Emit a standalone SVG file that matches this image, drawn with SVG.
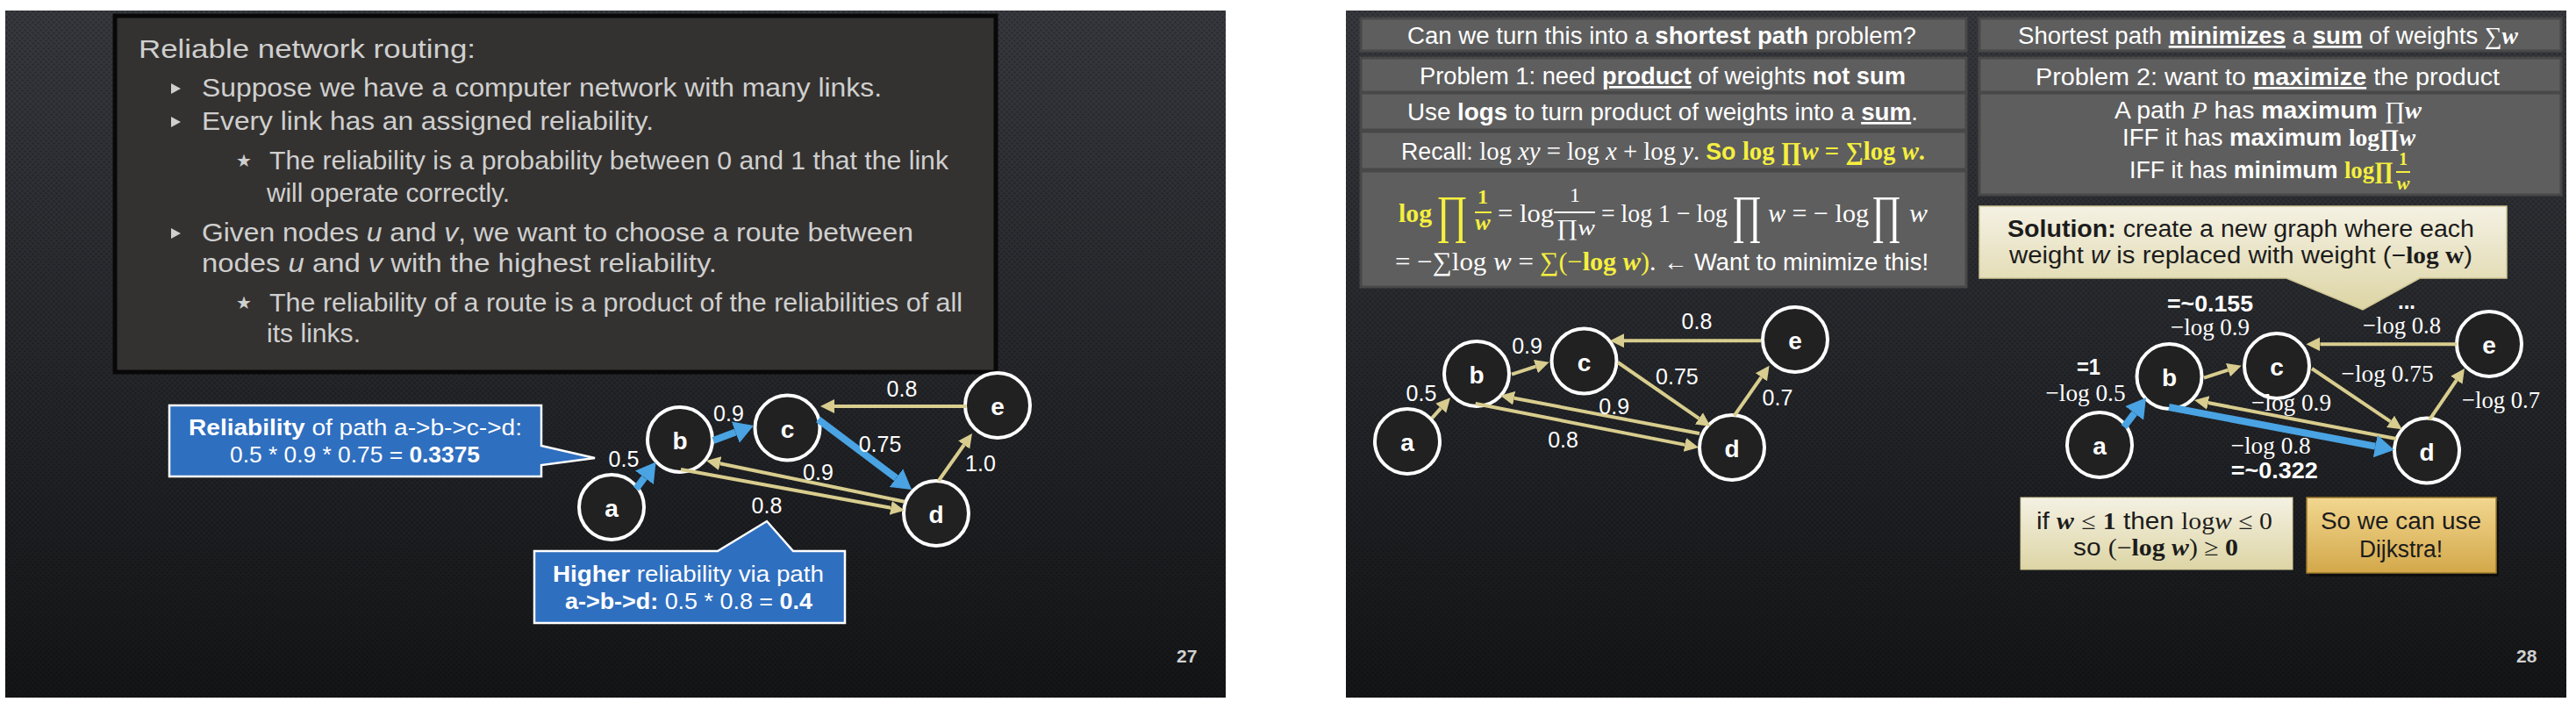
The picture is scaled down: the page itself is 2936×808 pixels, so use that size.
<svg xmlns="http://www.w3.org/2000/svg" width="2936" height="808" viewBox="0 0 2936 808">
<defs>
<style>
.sans{font-family:"Liberation Sans",Arial,sans-serif}
.m{font-family:"Liberation Serif","Times New Roman",serif}
.tex{font-family:"Liberation Sans",Arial,sans-serif;font-size:30px;fill:#cfcfcf}
.it{font-style:italic}
.b{font-weight:bold}
.u{text-decoration:underline}
.wh{fill:#ffffff}
.y{fill:#f5ef3f}
.co{font-family:"Liberation Sans",Arial,sans-serif;font-size:25px;fill:#ffffff}
.pt{font-family:"Liberation Sans",Arial,sans-serif;font-size:27px;fill:#ffffff}
.pt.dk,.dk{fill:#1c1c1c}
.lbl{font-family:"Liberation Sans",Arial,sans-serif;font-size:25px;fill:#ffffff;text-anchor:middle}
.ml{font-family:"Liberation Serif","Times New Roman",serif;font-size:28px;fill:#ffffff}
.bl{font-family:"Liberation Sans",Arial,sans-serif;font-size:26px;font-weight:bold;fill:#ffffff}
.node circle{fill:#212121;stroke:#ffffff;stroke-width:4}
.node text{font-family:"Liberation Sans",Arial,sans-serif;font-weight:bold;font-size:28px;fill:#ffffff;text-anchor:middle}
.tan{stroke:#d8cd8e;stroke-width:4;fill:none;marker-end:url(#ahTan)}
.blue{stroke:#4aa3e2;stroke-width:8;fill:none;marker-end:url(#ahBlue)}
.panel{fill:#5e5e5e;stroke:#484848;stroke-width:3}
.pg{font-family:"Liberation Sans",Arial,sans-serif;font-size:21px;font-weight:bold;fill:#d0d0d0}
</style>
<linearGradient id="bg" x1="0" y1="0" x2="0" y2="1">
<stop offset="0" stop-color="#36383d"/>
<stop offset="0.5" stop-color="#25272b"/>
<stop offset="1" stop-color="#141517"/>
</linearGradient>
<pattern id="dots" width="6" height="6" patternUnits="userSpaceOnUse">
<circle cx="1.5" cy="1.5" r="1.2" fill="#000" fill-opacity="0.22"/>
<circle cx="4.5" cy="4.5" r="1.2" fill="#000" fill-opacity="0.22"/>
</pattern>
<linearGradient id="cream" x1="0" y1="0" x2="0" y2="1">
<stop offset="0" stop-color="#f4f1e3"/>
<stop offset="1" stop-color="#ddd5a5"/>
</linearGradient>
<linearGradient id="gold" x1="0" y1="0" x2="0" y2="1">
<stop offset="0" stop-color="#f2d790"/>
<stop offset="1" stop-color="#d3a84a"/>
</linearGradient>
<marker id="ahTan" markerUnits="userSpaceOnUse" markerWidth="20" markerHeight="20" viewBox="0 -10 20 20" refX="0" refY="0" orient="auto">
<path d="M0,-8 L16,0 L0,8 Z" fill="#d8cd8e"/>
</marker>
<marker id="ahBlue" markerUnits="userSpaceOnUse" markerWidth="24" markerHeight="28" viewBox="0 -14 24 28" refX="0" refY="0" orient="auto">
<path d="M0,-13 L22,0 L0,13 Z" fill="#4aa3e2"/>
</marker>
</defs>

<rect width="2936" height="808" fill="#ffffff"/>

<!-- ================= LEFT SLIDE (27) ================= -->
<g id="slide27">
<rect x="6" y="12" width="1391" height="783" fill="url(#bg)"/>
<rect x="6" y="12" width="1391" height="783" fill="url(#dots)"/>

<g id="textbox">
<rect x="131" y="18" width="1004" height="406" fill="#343230" stroke="#080808" stroke-width="5"/>
<text x="158" y="66" class="tex" font-size="31" textLength="384" lengthAdjust="spacingAndGlyphs">Reliable network routing:</text>
<polygon points="195,95 195,107 206,101" fill="#cfcfcf"/>
<text x="230" y="110" class="tex" textLength="775" lengthAdjust="spacingAndGlyphs">Suppose we have a computer network with many links.</text>
<polygon points="195,133 195,145 206,139" fill="#cfcfcf"/>
<text x="230" y="148" class="tex" textLength="515" lengthAdjust="spacingAndGlyphs">Every link has an assigned reliability.</text>
<text x="269" y="190" font-family="DejaVu Sans, sans-serif" font-size="20" fill="#cfcfcf">★</text>
<text x="307" y="193" class="tex" textLength="774" lengthAdjust="spacingAndGlyphs">The reliability is a probability between 0 and 1 that the link</text>
<text x="304" y="230" class="tex" textLength="277" lengthAdjust="spacingAndGlyphs">will operate correctly.</text>
<polygon points="195,260 195,272 206,266" fill="#cfcfcf"/>
<text x="230" y="275" class="tex" textLength="811" lengthAdjust="spacingAndGlyphs">Given nodes <tspan class="it">u</tspan> and <tspan class="it">v</tspan>, we want to choose a route between</text>
<text x="230" y="310" class="tex" textLength="587" lengthAdjust="spacingAndGlyphs">nodes <tspan class="it">u</tspan> and <tspan class="it">v</tspan> with the highest reliability.</text>
<text x="269" y="352" font-family="DejaVu Sans, sans-serif" font-size="20" fill="#cfcfcf">★</text>
<text x="307" y="355" class="tex" textLength="790" lengthAdjust="spacingAndGlyphs">The reliability of a route is a product of the reliabilities of all</text>
<text x="304" y="390" class="tex" textLength="107" lengthAdjust="spacingAndGlyphs">its links.</text>
</g>

<g id="callout1">
<path d="M193,462 H617 V508 L678,522 L617,530 V543 H193 Z" fill="#2f6fbf" stroke="#ffffff" stroke-width="2.5"/>
<text x="215" y="496" class="co" textLength="380" lengthAdjust="spacingAndGlyphs"><tspan class="b">Reliability</tspan> of path a-&gt;b-&gt;c-&gt;d:</text>
<text x="262" y="527" class="co" textLength="285" lengthAdjust="spacingAndGlyphs">0.5 * 0.9 * 0.75 = <tspan class="b">0.3375</tspan></text>
</g>
<g id="callout2">
<path d="M609,628 H818 L874,594 L904,628 H963 V710 H609 Z" fill="#2f6fbf" stroke="#ffffff" stroke-width="2.5"/>
<text x="630" y="663" class="co" textLength="309" lengthAdjust="spacingAndGlyphs"><tspan class="b">Higher</tspan> reliability via path</text>
<text x="644" y="694" class="co" textLength="282" lengthAdjust="spacingAndGlyphs"><tspan class="b">a-&gt;b-&gt;d:</tspan> 0.5 * 0.8 = <tspan class="b">0.4</tspan></text>
</g>

<g id="g1-nodes">
<g id="g1-a" class="node"><circle cx="697" cy="578" r="37"/><text x="697" y="589">a</text></g>
<g id="g1-b" class="node"><circle cx="775" cy="501" r="37"/><text x="775" y="512">b</text></g>
<g id="g1-c" class="node"><circle cx="897.5" cy="487.5" r="37"/><text x="897.5" y="498.5">c</text></g>
<g id="g1-d" class="node"><circle cx="1067" cy="585" r="37"/><text x="1067" y="596">d</text></g>
<g id="g1-e" class="node"><circle cx="1137" cy="462" r="37"/><text x="1137" y="473">e</text></g>
</g>
<g id="g1-connectors">
<line class="blue" x1="725" y1="557" x2="734.4" y2="544.3"/>
<line class="blue" x1="813" y1="502" x2="838.3" y2="492.6"/>
<line class="blue" x1="932.5" y1="478" x2="1021.4" y2="544.7"/>
<line class="tan" x1="1101.5" y1="463" x2="951" y2="463"/>
<line class="tan" x1="1069.7" y1="548" x2="1098.7" y2="507"/>
<line class="tan" x1="1031" y1="571.7" x2="820.7" y2="528.2"/>
<line class="tan" x1="776" y1="535" x2="1015.3" y2="578.8"/>
</g>
<g id="g1-labels">
<text class="lbl" x="1028" y="452">0.8</text>
<text class="lbl" x="830.5" y="480">0.9</text>
<text class="lbl" x="1003" y="515">0.75</text>
<text class="lbl" x="711" y="532">0.5</text>
<text class="lbl" x="932.5" y="547">0.9</text>
<text class="lbl" x="1117.5" y="537">1.0</text>
<text class="lbl" x="874" y="585">0.8</text>
</g>
<text class="pg" x="1341" y="755">27</text>
</g>

<!-- ================= RIGHT SLIDE (28) ================= -->
<g id="slide28">
<rect x="1534" y="12" width="1391" height="783" fill="url(#bg)"/>
<rect x="1534" y="12" width="1391" height="783" fill="url(#dots)"/>

<g id="box-q">
<rect class="panel" x="1551" y="21" width="690" height="37"/>
<text x="1604" y="50" class="pt" textLength="580" lengthAdjust="spacingAndGlyphs">Can we turn this into a <tspan class="b">shortest path</tspan> problem?</text>
</g>
<g id="box-p1">
<rect class="panel" x="1551" y="66" width="690" height="39"/>
<text x="1618" y="96" class="pt" textLength="554" lengthAdjust="spacingAndGlyphs">Problem 1: need <tspan class="b u">product</tspan> of weights <tspan class="b">not sum</tspan></text>
</g>
<g id="box-logs">
<rect class="panel" x="1551" y="106" width="690" height="42"/>
<text x="1604" y="137" class="pt" textLength="582" lengthAdjust="spacingAndGlyphs">Use <tspan class="b">logs</tspan> to turn product of weights into a <tspan class="b u">sum</tspan>.</text>
</g>
<g id="box-recall">
<rect class="panel" x="1551" y="150" width="690" height="43"/>
<text x="1597" y="182" class="pt" textLength="597" lengthAdjust="spacingAndGlyphs">Recall: <tspan class="m" font-size="29">log <tspan class="it">xy</tspan> = log <tspan class="it">x</tspan> + log <tspan class="it">y</tspan>. </tspan><tspan class="y b">So <tspan class="m" font-size="29">log ∏<tspan class="it">w</tspan> = ∑log <tspan class="it">w</tspan>.</tspan></tspan></text>
</g>
<g id="box-eq">
<rect class="panel" x="1551" y="195" width="690" height="132"/>
<text x="1594" y="253" class="m b y" font-size="30" textLength="38" lengthAdjust="spacingAndGlyphs">log</text>
<text x="1637" y="264" class="m y" font-size="60" textLength="36" lengthAdjust="spacingAndGlyphs">∏</text>
<text x="1690" y="232" class="m b y" font-size="24" text-anchor="middle">1</text>
<line x1="1681" y1="242" x2="1700" y2="242" stroke="#f5ef3f" stroke-width="2"/>
<text x="1690" y="262" class="m b it y" font-size="26" text-anchor="middle">w</text>
<text x="1707" y="253" class="m wh" font-size="30" textLength="64" lengthAdjust="spacingAndGlyphs">= log</text>
<text x="1795" y="230" class="m wh" font-size="24" text-anchor="middle">1</text>
<line x1="1771" y1="242" x2="1818" y2="242" stroke="#ffffff" stroke-width="2"/>
<text x="1774" y="268" class="m wh" font-size="26" textLength="44" lengthAdjust="spacingAndGlyphs">∏<tspan class="it">w</tspan></text>
<text x="1825" y="253" class="m wh" font-size="30" textLength="144" lengthAdjust="spacingAndGlyphs">= log 1 − log</text>
<text x="1974" y="264" class="m wh" font-size="60" textLength="34" lengthAdjust="spacingAndGlyphs">∏</text>
<text x="2015" y="253" class="m wh" font-size="30" textLength="115" lengthAdjust="spacingAndGlyphs"><tspan class="it">w</tspan> = − log</text>
<text x="2133" y="264" class="m wh" font-size="60" textLength="34" lengthAdjust="spacingAndGlyphs">∏</text>
<text x="2176" y="253" class="m it wh" font-size="30" textLength="21" lengthAdjust="spacingAndGlyphs">w</text>
<text x="1590" y="308" class="m wh" font-size="30" textLength="158" lengthAdjust="spacingAndGlyphs">= −∑log <tspan class="it">w</tspan> =</text>
<text x="1755" y="308" class="m y" font-size="30" textLength="125" lengthAdjust="spacingAndGlyphs">∑(−<tspan class="b">log </tspan><tspan class="b it">w</tspan>)</text>
<text x="1880" y="308" class="m wh" font-size="30">.</text>
<text x="1896" y="308" class="pt" textLength="302" lengthAdjust="spacingAndGlyphs">← Want to minimize this!</text>
</g>

<g id="box-sp">
<rect class="panel" x="2256" y="21" width="663" height="37"/>
<text x="2300" y="50" class="pt" textLength="570" lengthAdjust="spacingAndGlyphs">Shortest path <tspan class="b u">minimizes</tspan> a <tspan class="b u">sum</tspan> of weights <tspan class="m">∑<tspan class="b it">w</tspan></tspan></text>
</g>
<g id="box-p2">
<rect class="panel" x="2256" y="66" width="663" height="39"/>
<text x="2320" y="97" class="pt" textLength="529" lengthAdjust="spacingAndGlyphs">Problem 2: want to <tspan class="b u">maximize</tspan> the product</text>
</g>
<g id="box-iff">
<rect class="panel" x="2256" y="106" width="663" height="116"/>
<text x="2410" y="135" class="pt" textLength="350" lengthAdjust="spacingAndGlyphs">A path <tspan class="m it">P</tspan> has <tspan class="b">maximum</tspan> <tspan class="m">∏<tspan class="b it">w</tspan></tspan></text>
<text x="2419" y="166" class="pt" textLength="334" lengthAdjust="spacingAndGlyphs">IFF it has <tspan class="b">maximum</tspan> <tspan class="m b">log∏<tspan class="it">w</tspan></tspan></text>
<text x="2427" y="203" class="pt" textLength="301" lengthAdjust="spacingAndGlyphs">IFF it has <tspan class="b">minimum</tspan> <tspan class="m b y">log∏</tspan></text>
<text x="2739" y="188" class="m b y" font-size="20" text-anchor="middle">1</text>
<line x1="2731" y1="196" x2="2747" y2="196" stroke="#f5ef3f" stroke-width="2"/>
<text x="2739" y="216" class="m b it y" font-size="22" text-anchor="middle">w</text>
</g>

<g id="callout-solution">
<path d="M2256,235 H2857 V317 H2758 L2693,353 L2606,317 H2256 Z" fill="url(#cream)" stroke="#cfc796" stroke-width="1.5"/>
<text x="2288" y="270" class="pt dk" textLength="532" lengthAdjust="spacingAndGlyphs"><tspan class="b">Solution:</tspan> create a new graph where each</text>
<text x="2290" y="300" class="pt dk" textLength="528" lengthAdjust="spacingAndGlyphs">weight <tspan class="it">w</tspan> is replaced with weight (<tspan class="m b">−log w</tspan>)</text>
</g>

<g id="g2-nodes">
<g id="g2-a" class="node"><circle cx="1604" cy="503" r="37"/><text x="1604" y="514">a</text></g>
<g id="g2-b" class="node"><circle cx="1683" cy="426" r="37"/><text x="1683" y="437">b</text></g>
<g id="g2-c" class="node"><circle cx="1805.5" cy="411.5" r="37"/><text x="1805.5" y="422.5">c</text></g>
<g id="g2-d" class="node"><circle cx="1974" cy="510" r="37"/><text x="1974" y="521">d</text></g>
<g id="g2-e" class="node"><circle cx="2046" cy="387" r="37"/><text x="2046" y="398">e</text></g>
</g>
<g id="g2-connectors">
<line class="tan" x1="1632" y1="476.7" x2="1642.3" y2="465.2"/>
<line class="tan" x1="1723" y1="426.7" x2="1750.4" y2="417.7"/>
<line class="tan" x1="2007" y1="388.3" x2="1851" y2="388.3"/>
<line class="tan" x1="1844" y1="413" x2="1936.4" y2="476.9"/>
<line class="tan" x1="1976.5" y1="474" x2="2007.4" y2="429.8"/>
<line class="tan" x1="1937" y1="494" x2="1725.7" y2="453.7"/>
<line class="tan" x1="1681.6" y1="460" x2="1920.3" y2="506.9"/>
</g>
<g id="g2-labels">
<text class="lbl" x="1934" y="375">0.8</text>
<text class="lbl" x="1740.6" y="403">0.9</text>
<text class="lbl" x="1911.4" y="438">0.75</text>
<text class="lbl" x="1620" y="457">0.5</text>
<text class="lbl" x="1839.7" y="472">0.9</text>
<text class="lbl" x="2026" y="462">0.7</text>
<text class="lbl" x="1781.6" y="510">0.8</text>
</g>

<g id="g3-nodes">
<g id="g3-a" class="node"><circle cx="2393" cy="507" r="37"/><text x="2393" y="518">a</text></g>
<g id="g3-b" class="node"><circle cx="2472.5" cy="429" r="37"/><text x="2472.5" y="440">b</text></g>
<g id="g3-c" class="node"><circle cx="2595" cy="417" r="37"/><text x="2595" y="428">c</text></g>
<g id="g3-d" class="node"><circle cx="2766" cy="513.5" r="37"/><text x="2766" y="524.5">d</text></g>
<g id="g3-e" class="node"><circle cx="2837" cy="392" r="37"/><text x="2837" y="403">e</text></g>
</g>
<g id="g3-connectors">
<line class="blue" x1="2420.8" y1="486.7" x2="2432.7" y2="470.9"/>
<line class="tan" x1="2512" y1="430.7" x2="2539.5" y2="421.7"/>
<line class="tan" x1="2800" y1="392.3" x2="2644.4" y2="392.3"/>
<line class="tan" x1="2635" y1="420" x2="2724.5" y2="480.4"/>
<line class="tan" x1="2769" y1="478.3" x2="2799.9" y2="433.2"/>
<line class="tan" x1="2731" y1="500" x2="2516.7" y2="459"/>
<line class="blue" x1="2472" y1="464" x2="2707.2" y2="508.6"/>
</g>
<g id="g3-labels">
<text class="bl" x="2470" y="355" textLength="98" lengthAdjust="spacingAndGlyphs">=~0.155</text>
<text class="ml" x="2474" y="382" textLength="90" lengthAdjust="spacingAndGlyphs">−log 0.9</text>
<text class="bl" x="2733" y="352" textLength="20" lengthAdjust="spacingAndGlyphs">...</text>
<text class="ml" x="2693" y="380" textLength="89" lengthAdjust="spacingAndGlyphs">−log 0.8</text>
<text class="bl" x="2367" y="427" textLength="27" lengthAdjust="spacingAndGlyphs">=1</text>
<text class="ml" x="2331.5" y="457" textLength="91" lengthAdjust="spacingAndGlyphs">−log 0.5</text>
<text class="ml" x="2668.6" y="435" textLength="105" lengthAdjust="spacingAndGlyphs">−log 0.75</text>
<text class="ml" x="2566" y="468" textLength="91" lengthAdjust="spacingAndGlyphs">−log 0.9</text>
<text class="ml" x="2806" y="465" textLength="89" lengthAdjust="spacingAndGlyphs">−log 0.7</text>
<text class="ml" x="2542.7" y="517" textLength="91" lengthAdjust="spacingAndGlyphs">−log 0.8</text>
<text class="bl" x="2542.7" y="545" textLength="99" lengthAdjust="spacingAndGlyphs">=~0.322</text>
</g>

<g id="box-nonneg">
<rect x="2303" y="567" width="310" height="82" fill="url(#cream)" stroke="#d3cb98" stroke-width="1"/>
<text x="2321" y="603" class="pt dk" font-size="26" textLength="269" lengthAdjust="spacingAndGlyphs">if <tspan class="m b it">w</tspan> <tspan class="m">≤</tspan> <tspan class="m b">1</tspan> then <tspan class="m">log<tspan class="it">w</tspan> ≤ 0</tspan></text>
<text x="2363" y="633" class="pt dk" font-size="26" textLength="188" lengthAdjust="spacingAndGlyphs">so <tspan class="m">(−<tspan class="b">log</tspan> <tspan class="b it">w</tspan>) ≥ <tspan class="b">0</tspan></tspan></text>
</g>
<g id="box-dijkstra">
<rect x="2632" y="571" width="216" height="86" fill="#000" fill-opacity="0.5"/>
<rect x="2629" y="567" width="216" height="86" fill="url(#gold)" stroke="#9c7a2e" stroke-width="1.5"/>
<text x="2736.5" y="603" class="pt dk" text-anchor="middle" textLength="183" lengthAdjust="spacingAndGlyphs">So we can use</text>
<text x="2736.5" y="635" class="pt dk" text-anchor="middle" textLength="95" lengthAdjust="spacingAndGlyphs">Dijkstra!</text>
</g>
<text class="pg" x="2868" y="755">28</text>
</g>
</svg>
